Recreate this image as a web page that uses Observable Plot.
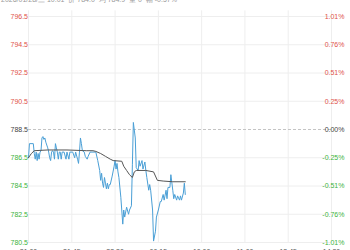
<!DOCTYPE html>
<html>
<head>
<meta charset="utf-8">
<script src="https://cdn.jsdelivr.net/npm/d3@7"></script>
<script src="https://cdn.jsdelivr.net/npm/@observablehq/plot@0.6"></script>
<style>
  html, body { margin: 0; padding: 0; background: #fff; }
  #wrap { position: relative; width: 350px; height: 250px; overflow: hidden; font-family: "Liberation Sans", Arial, sans-serif; }
  #hdr { position: absolute; left: 1px; top: -4px; font-size: 7px; color: #999; white-space: pre; line-height: 8px; }
  #chart { position: absolute; left: 0; top: 0; }
</style>
</head>
<body>
<div id="wrap">
  <div id="chart"></div>
  <div id="hdr"></div>
</div>
<script>
// Header info
const headerText = "2026/01/28/三 10:01  价 784.0  均 784.9  量 0  幅 -0.57%";

// Price axis (left) and change axis (right)
const prevClose = 788.5;
const yTicks = [796.5, 794.5, 792.5, 790.5, 788.5, 786.5, 784.5, 782.5, 780.5];
const yLabels = ["796.5", "794.5", "792.5", "790.5", "788.5", "786.5", "784.5", "782.5", "780.5"];
const pctLabels = ["1.01%", "0.76%", "0.51%", "0.25%", "0.00%", "-0.25%", "-0.51%", "-0.76%", "-1.01%"];

// Time axis (trading-minute index)
const xTicks = [0, 45, 90, 135, 180, 225, 270, 315];
const xLabels = ["21:00", "21:45", "22:30", "00:15", "10:00", "11:00", "13:45", "14:30"];

// Price series (minute index, price)
const priceMin = [0,1,5,6,7,8,9,10,11,12,13,14,15,16,17,18,19,20,21,22,23,24,25,26,27,28,29,30,31,32,33,34,35,37,39,40,42,43,46,48,49,51,52,53,54,55,56,58,59,61,62,64,66,70,72,74,75,76,77,78,79,80,81,82,83,84,85,87,89,90,91,92,93,94,96,98,99,100,102,104,105,107,108,109,111,112,114,115,116,118,119,121,122,123,125,126,127,129,130,132,133,135,137,138,140,141,143,144,145,147,148,150,151,152,154,155,157,158,159,161,162,163];
const priceVal = [786.5,787.5,787.5,786.8,786.4,786.9,786.3,786.8,786.4,786.9,787.0,787.9,788.0,787.8,787.9,787.6,787.4,787.2,786.9,786.5,786.3,786.9,787.0,786.9,786.4,787.5,787.2,786.9,786.4,786.9,786.9,786.4,786.9,786.9,786.4,786.9,786.4,786.9,786.9,786.5,786.9,786.4,786.1,786.9,787.9,787.5,787.0,786.9,786.6,786.4,786.6,786.9,786.9,786.9,786.3,785.6,784.9,785.4,784.7,784.4,785.1,784.7,784.3,784.7,784.3,784.6,784.6,785.2,785.9,786.3,785.7,786.1,785.5,785.1,783.7,781.8,782.8,782.3,783.0,782.5,782.8,783.1,786.0,789.0,787.9,785.8,785.6,786.3,785.9,786.3,785.7,786.2,785.6,785.1,784.2,784.6,784.2,782.8,780.6,781.3,782.3,782.8,783.4,783.4,783.9,783.5,784.2,783.6,784.4,784.4,785.3,784.2,783.6,783.9,783.5,783.8,783.5,783.8,783.5,784.0,784.7,783.9];

// Average price series
const avgMin = [0,3,6,20,40,60,67,70,75,80,85,88,97,99,102,105,108,110,112,122,130,134,140,150,163];
const avgVal = [786.5,786.8,787.0,787.05,787.05,787.0,787.0,786.95,786.8,786.6,786.4,786.3,786.25,785.9,785.6,785.3,785.1,785.5,785.6,785.6,785.5,784.9,784.85,784.8,784.8];

const price = priceMin.map((m, i) => ({m, v: priceVal[i]}));
const avg = avgMin.map((m, i) => ({m, v: avgVal[i]}));
const yT = yTicks.map((v, i) => ({v, label: yLabels[i], pct: pctLabels[i]}));
const xT = xTicks.map((m, i) => ({m, label: xLabels[i], i}));

const red = "#e0524a", green = "#3db33d", gray = "#444";
const col = d => d.v > prevClose ? red : (d.v < prevClose ? green : gray);

document.getElementById("hdr").textContent = headerText;

const chart = Plot.plot({
  width: 350,
  height: 250,
  marginLeft: 28,
  marginRight: 19,
  marginTop: 16,
  marginBottom: 8,
  style: {fontFamily: "'Liberation Sans', Arial, sans-serif", fontSize: "7px", background: "transparent"},
  x: {domain: [0, 315], axis: null},
  y: {domain: [780.5, 796.5], axis: null},
  marks: [
    Plot.ruleY(yT.filter(d => d.v !== prevClose), {y: "v", x1: 0, x2: 315, stroke: "#eeeeee", strokeWidth: 1}),
    Plot.ruleX(xT, {x: "m", y1: 780.5, y2: 796.9, stroke: "#eeeeee", strokeWidth: 1, clip: false}),
    Plot.ruleY([prevClose], {x1: 0, x2: 315, stroke: "#c4c4c4", strokeDasharray: "3,2", strokeWidth: 1}),
    Plot.line(price, {x: "m", y: "v", stroke: "#4a9fd6", strokeWidth: 1}),
    Plot.line(avg, {x: "m", y: "v", stroke: "#555555", strokeWidth: 1}),
    Plot.text(yT, {x: 0, y: "v", text: "label", fill: col, textAnchor: "start", dx: -18}),
    Plot.text(yT, {x: 315, y: "v", text: "pct", fill: col, textAnchor: "end", dx: 13}),
    Plot.text(xT, {x: "m", y: 780.5, text: "label", fill: "#555",
      textAnchor: d => d.i === 0 ? "start" : (d.i === xT.length - 1 ? "end" : "middle"),
      dy: 9})
  ]
});
document.getElementById("chart").appendChild(chart);
</script>
</body>
</html>
